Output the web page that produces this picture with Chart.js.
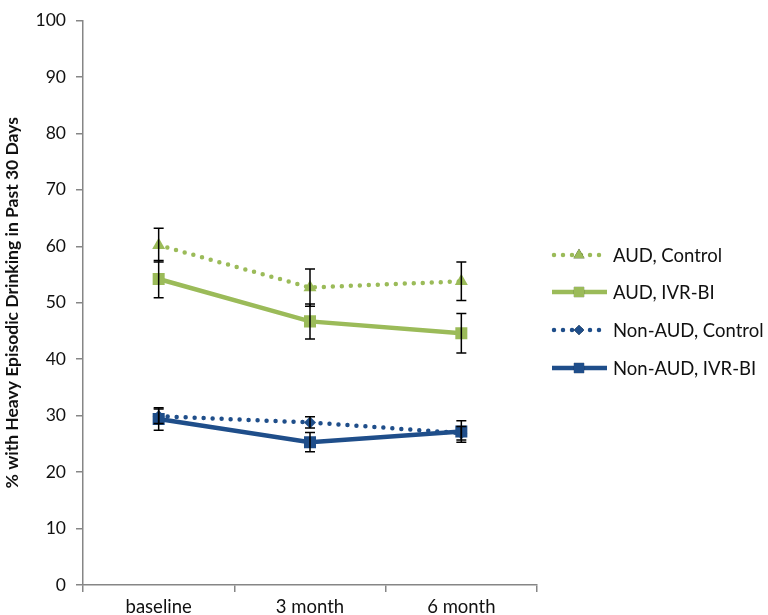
<!DOCTYPE html>
<html>
<head>
<meta charset="utf-8">
<script src="https://cdn.jsdelivr.net/npm/chart.js@4.4.1/dist/chart.umd.min.js"></script>
<style>
  body { margin: 0; background: #fff; }
  #wrap { width: 768px; height: 615px; position: relative; }
</style>
</head>
<body>
<div id="wrap"><canvas id="chart"></canvas></div>
<script>
const categories = ['baseline', '3 month', '6 month'];

const audControl = [60.2, 52.7, 53.8];
const audControlErr = [3.0, 3.3, 3.4];
const audIvr = [54.2, 46.7, 44.6];
const audIvrErr = [3.3, 3.1, 3.5];
const nonAudControl = [29.9, 28.8, 26.9];
const nonAudControlErr = [1.3, 1.0, 1.2];
const nonAudIvr = [29.4, 25.3, 27.2];
const nonAudIvrErr = [2.0, 1.7, 1.9];

const yMin = 0, yMax = 100, yStep = 10;

const GREEN = '#9BBB59';
const BLUE = '#1F4E8A';
const AXIS = '#868686';
const FONT = 'Lato, "Noto Sans", sans-serif';

const dotted = [0, 9];

const datasets = [
    { label: 'AUD, Control', data: audControl, err: audControlErr, borderColor: GREEN, backgroundColor: GREEN,
      borderDash: dotted, borderCapStyle: 'round', borderWidth: 4.5, pointStyle: 'triangle', pointRadius: 7.5 },
    { label: 'AUD, IVR-BI', data: audIvr, err: audIvrErr, borderColor: GREEN, backgroundColor: GREEN,
      borderWidth: 4.5, pointStyle: 'rect', pointRadius: 8.5 },
    { label: 'Non-AUD, Control', data: nonAudControl, err: nonAudControlErr, borderColor: BLUE, backgroundColor: BLUE,
      borderDash: dotted, borderCapStyle: 'round', borderWidth: 4.5, pointStyle: 'rectRot', pointRadius: 6 },
    { label: 'Non-AUD, IVR-BI', data: nonAudIvr, err: nonAudIvrErr, borderColor: BLUE, backgroundColor: BLUE,
      borderWidth: 4.5, pointStyle: 'rect', pointRadius: 8.5 },
].map(d => Object.assign({ fill: false, tension: 0, pointBorderWidth: 0, pointHoverRadius: d.pointRadius }, d));

// error bars on top of the series, positions from the y scale
const errorBars = {
    id: 'errorBars',
    afterDatasetsDraw(chart) {
        const ctx = chart.ctx;
        const y = chart.scales.y;
        ctx.save();
        ctx.strokeStyle = '#000';
        ctx.lineWidth = 1.5;
        chart.data.datasets.forEach((ds, i) => {
            chart.getDatasetMeta(i).data.forEach((pt, j) => {
                const top = y.getPixelForValue(ds.data[j] + ds.err[j]);
                const bot = y.getPixelForValue(ds.data[j] - ds.err[j]);
                ctx.beginPath();
                ctx.moveTo(pt.x, top); ctx.lineTo(pt.x, bot);
                ctx.moveTo(pt.x - 5, top); ctx.lineTo(pt.x + 5, top);
                ctx.moveTo(pt.x - 5, bot); ctx.lineTo(pt.x + 5, bot);
                ctx.stroke();
            });
        });
        ctx.restore();
    }
};

// Excel style legend: line sample with marker in the middle
const sideLegend = {
    id: 'sideLegend',
    afterDraw(chart) {
        const ctx = chart.ctx;
        const rows = [255, 292, 330, 368];
        const x0 = 552, x1 = 607, xm = 579;
        ctx.save();
        chart.data.datasets.forEach((ds, i) => {
            const yy = rows[i];
            ctx.strokeStyle = ds.borderColor;
            ctx.lineWidth = ds.borderWidth;
            ctx.lineCap = ds.borderCapStyle || 'butt';
            ctx.setLineDash(ds.borderDash || []);
            ctx.beginPath();
            ctx.moveTo(x0 + (ds.borderDash ? 2 : 0), yy);
            ctx.lineTo(x1, yy);
            ctx.stroke();
            ctx.setLineDash([]);
            Chart.helpers.drawPoint(ctx, {
                pointStyle: ds.pointStyle, radius: ds.pointRadius * 0.85, borderWidth: 0
            }, xm, yy);
            ctx.fillStyle = ds.backgroundColor;
            ctx.fill();
            ctx.fillStyle = '#111';
            ctx.font = '18.5px ' + FONT;
            ctx.textBaseline = 'middle';
            ctx.fillText(ds.label, 613, yy + 1);
        });
        ctx.restore();
    }
};

new Chart(document.getElementById('chart'), {
    type: 'line',
    data: { labels: categories, datasets: datasets },
    options: {
        responsive: true,
        maintainAspectRatio: false,
        animation: false,
        layout: { padding: { top: 9, right: 231, bottom: 0, left: 0 } },
        plugins: { legend: { display: false }, tooltip: { enabled: false } },
        scales: {
            x: {
                offset: true,
                grid: { offset: true, drawOnChartArea: false, drawTicks: true, tickLength: 7, color: AXIS, lineWidth: 1.5 },
                border: { display: true, color: AXIS, width: 1.5 },
                ticks: { color: '#111', font: { family: FONT, size: 18.5 }, padding: 4 },
                afterFit: s => { s.height = 30; }
            },
            y: {
                min: yMin, max: yMax,
                grid: { drawOnChartArea: false, drawTicks: true, tickLength: 7, color: AXIS, lineWidth: 1.5 },
                border: { display: true, color: AXIS, width: 1.5 },
                ticks: { stepSize: yStep, color: '#111', font: { family: FONT, size: 17.5 }, padding: 10 },
                title: {
                    display: true,
                    text: '% with Heavy Episodic Drinking in Past 30 Days',
                    color: '#111',
                    font: { family: FONT, size: 17.5, weight: 'bold' },
                    padding: { top: 2, bottom: 0 }
                },
                afterFit: s => { s.width = 83; }
            }
        }
    },
    plugins: [errorBars, sideLegend]
});
</script>
</body>
</html>
